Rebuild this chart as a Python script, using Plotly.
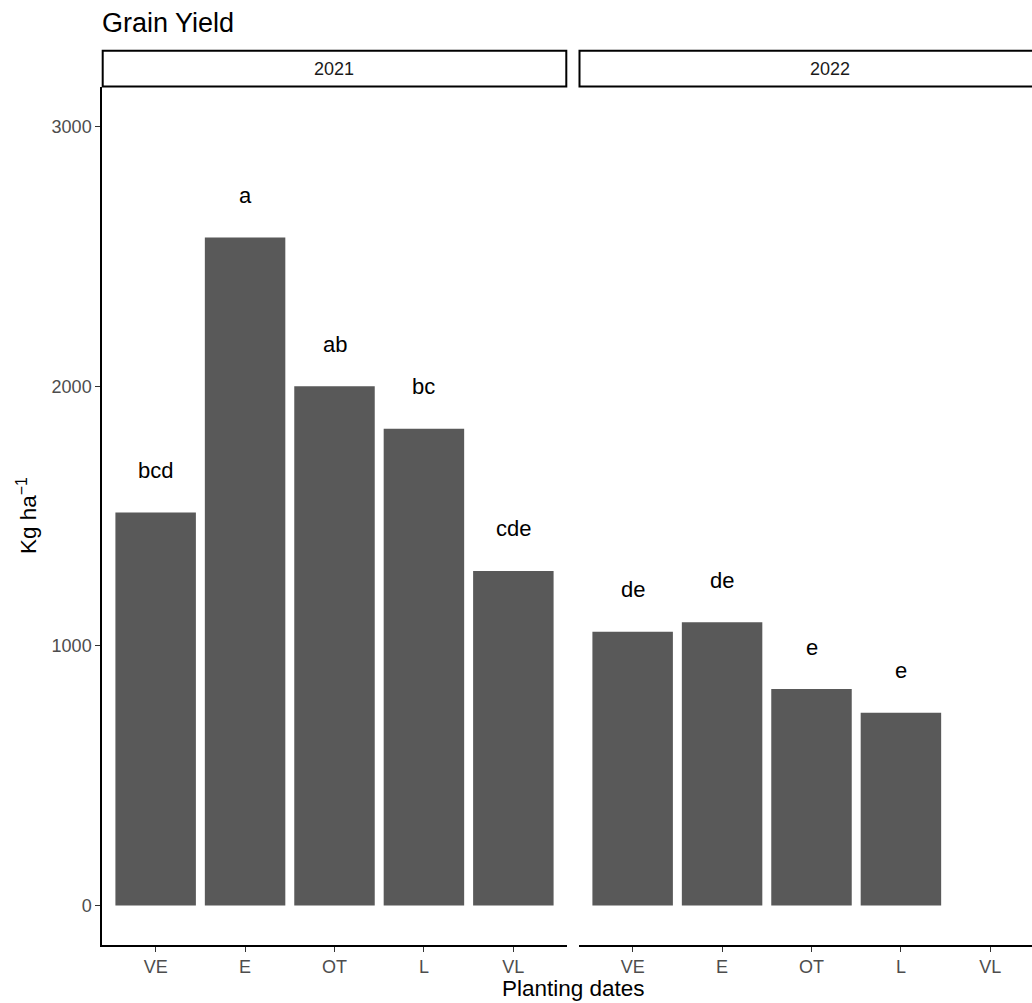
import plotly.graph_objects as go

# ---- data ----
dates = ["VE", "E", "OT", "L", "VL"]
years = ["2021", "2022"]
yield_2021 = [1514, 2573, 2000, 1837, 1289]
yield_2022 = [1055, 1091, 834, 743, None]
letters_2021 = ["bcd", "a", "ab", "bc", "cde"]
letters_2022 = ["de", "de", "e", "e", None]
y_tick_vals = [0, 1000, 2000, 3000]

# ---- geometry (pixels) ----
W, H = 1032, 1003
M_L, M_R, M_T, M_B = 102, 0, 87, 58
PW = W - M_L - M_R
PH = H - M_T - M_B


def px_x(x):
    return (x - M_L) / PW


def px_y(y):
    return (H - M_B - y) / PH


FONT = "Arial, 'Liberation Sans', sans-serif"
BAR = "#595959"
AX_TXT = "#4d4d4d"

fig = go.Figure()
panels = [
    ("x", "y", yield_2021, letters_2021),
    ("x2", "y2", yield_2022, letters_2022),
]
for xa, ya, vals, labs in panels:
    fig.add_trace(go.Bar(
        x=dates, y=vals, xaxis=xa, yaxis=ya, width=0.9,
        marker=dict(color=BAR, line=dict(width=0)),
        showlegend=False, hoverinfo="x+y",
    ))
    for d, v, lab in zip(dates, vals, labs):
        if v is None or lab is None:
            continue
        fig.add_annotation(
            x=d, y=v, xref=xa, yref=ya, text=lab, showarrow=False,
            yshift=42, yanchor="middle",
            font=dict(family=FONT, size=22, color="black"),
        )

common_x = dict(
    type="category", categoryorder="array", categoryarray=dates,
    showline=True, linecolor="black", linewidth=1.5,
    ticks="outside", ticklen=5, tickwidth=1.3, tickcolor="#333333",
    tickfont=dict(family=FONT, size=18, color=AX_TXT),
    showgrid=False, zeroline=False,
)
left_dom = [0, px_x(567)]
right_dom = [px_x(579), 1]
step = (567 - 102) / 5.2
right_hi = -0.6 + (W - 579) / step

y_range = [-152, 3153]

fig.update_layout(
    width=W, height=H,
    margin=dict(l=M_L, r=M_R, t=M_T, b=M_B),
    paper_bgcolor="white", plot_bgcolor="white",
    bargap=0.1,
    title=dict(text="Grain Yield", x=102 / W, xanchor="left",
               y=1 - 23 / H, yanchor="middle", xref="container", yref="container",
               font=dict(family=FONT, size=27, color="black")),
    xaxis=dict(common_x, domain=left_dom, range=[-0.6, 4.6], anchor="y"),
    xaxis2=dict(common_x, domain=right_dom, range=[-0.6, right_hi], anchor="y2"),
    yaxis=dict(
        domain=[0, 1], range=y_range, anchor="x",
        tickvals=y_tick_vals, ticktext=[str(v) for v in y_tick_vals],
        showline=True, linecolor="black", linewidth=1.5,
        ticks="outside", ticklen=5, tickwidth=1.3, tickcolor="#333333",
        tickfont=dict(family=FONT, size=18, color=AX_TXT),
        showgrid=False, zeroline=False,
    ),
    yaxis2=dict(
        domain=[0, 1], range=y_range, anchor="x2", matches="y",
        showline=False, showticklabels=False, ticks="",
        showgrid=False, zeroline=False,
    ),
)

# facet strips
strip_y0, strip_y1 = px_y(86.5), px_y(50.7)
strips = [(px_x(102.7), px_x(566.3)), (px_x(579.5), px_x(1050))]
strip_txt_x = [px_x(334), px_x(830)]
for (x0, x1), yr, tx in zip(strips, years, strip_txt_x):
    fig.add_shape(type="rect", xref="paper", yref="paper",
                  x0=x0, x1=x1, y0=strip_y0, y1=strip_y1,
                  line=dict(color="black", width=2), fillcolor="white",
                  layer="above")
    fig.add_annotation(xref="paper", yref="paper", x=tx,
                       y=(strip_y0 + strip_y1) / 2, text=yr, showarrow=False,
                       xanchor="center", yanchor="middle",
                       font=dict(family=FONT, size=18, color="#1a1a1a"))

# axis titles
fig.add_annotation(xref="paper", yref="paper", x=px_x(573), y=px_y(988),
                   text="Planting dates", showarrow=False,
                   xanchor="center", yanchor="middle",
                   font=dict(family=FONT, size=22.5, color="black"))
fig.add_annotation(xref="paper", yref="paper", x=px_x(27), y=px_y(516),
                   text="Kg ha<sup>\u22121</sup>", showarrow=False, textangle=-90,
                   xanchor="center", yanchor="middle",
                   font=dict(family=FONT, size=22.5, color="black"))

fig.write_html(
    "out.html",
    config={"displayModeBar": False},
    post_script="document.body.style.margin='0';document.body.style.overflow='hidden';",
)
